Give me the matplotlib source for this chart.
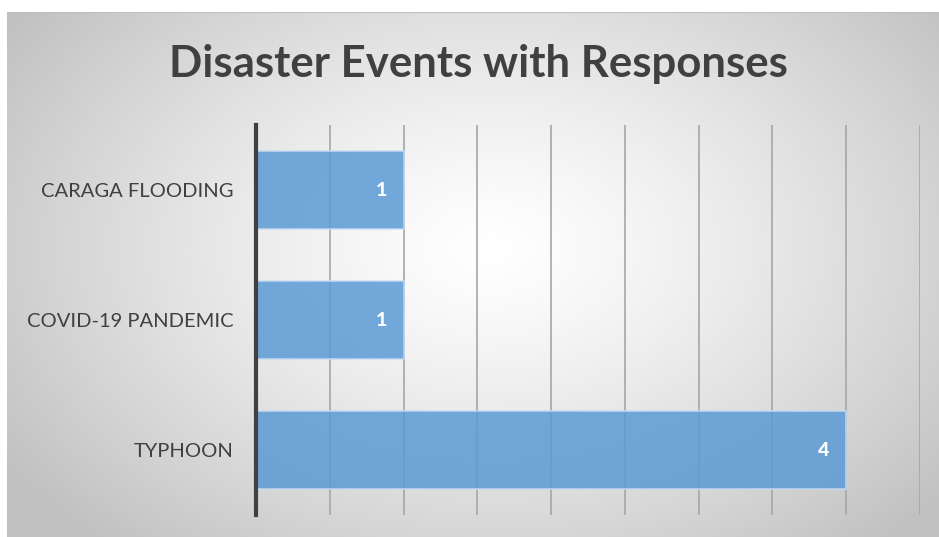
import numpy as np
import matplotlib.pyplot as plt

categories = ["CARAGA FLOODING", "COVID-19 PANDEMIC", "TYPHOON"]
responses = [1, 1, 4]
title = "Disaster Events with Responses"

W, H = 939, 537
fig = plt.figure(figsize=(W / 100, H / 100), dpi=100)
fig.patch.set_facecolor("white")

# radial gray-to-white backdrop of the chart frame
fx0, fy1 = 7, 12
bg = fig.add_axes([fx0 / W, 0, 1 - fx0 / W, 1 - fy1 / H])
bg.set_axis_off()
gx, gy = np.meshgrid(np.linspace(0, 1, 400), np.linspace(0, 1, 240))
r = np.sqrt(((gx - 0.52) / 0.62) ** 2 + ((gy - 0.45) / 0.75) ** 2)
shade = np.clip(1 - 0.24 * r ** 1.3, 0.76, 1.0)
bg.imshow(np.dstack([shade] * 3), extent=[0, 1, 0, 1], aspect="auto",
          origin="upper", interpolation="bilinear")
bg.set_xlim(0, 1)
bg.set_ylim(0, 1)
bg.axhline(1, color="#bfbfbf", lw=1.5)

fig.text(478 / W, 1 - 64 / H, title, ha="center", va="center",
         fontsize=31.5, fontweight="bold", color="#404040", family="Lato")

ax = fig.add_axes([256 / W, 1 - 515 / H, (920 - 256) / W, (515 - 125) / H])
ax.patch.set_alpha(0)
y = np.arange(len(categories))
bars = ax.barh(y, responses, height=0.6, color="#5b9bd5", alpha=0.85,
               edgecolor="#c5dcf0", linewidth=1.2, zorder=2)
for rect, v in zip(bars, responses):
    ax.text(v - 0.15, rect.get_y() + rect.get_height() / 2, str(v),
            ha="center", va="center", color="white", fontsize=14,
            fontweight="black", family="Lato", zorder=3)

ax.set_xlim(0, 4.5)
ax.set_ylim(-0.5, len(categories) - 0.5)
ax.invert_yaxis()
ax.set_xticks(np.arange(0.5, 4.51, 0.5))
ax.grid(axis="x", color="#a6a6a6", lw=1.2, zorder=1)
ax.tick_params(axis="x", length=0, labelbottom=False)
ax.set_yticks(y)
ax.set_yticklabels(categories, fontsize=14.5, color="#404040", family="Lato")
ax.tick_params(axis="y", length=0, pad=16)
for side in ["top", "right", "bottom"]:
    ax.spines[side].set_visible(False)
ax.spines["left"].set_color("#404040")
ax.spines["left"].set_linewidth(3)
ax.spines["left"].set_zorder(4)

fig.savefig("out.png", dpi=100)
